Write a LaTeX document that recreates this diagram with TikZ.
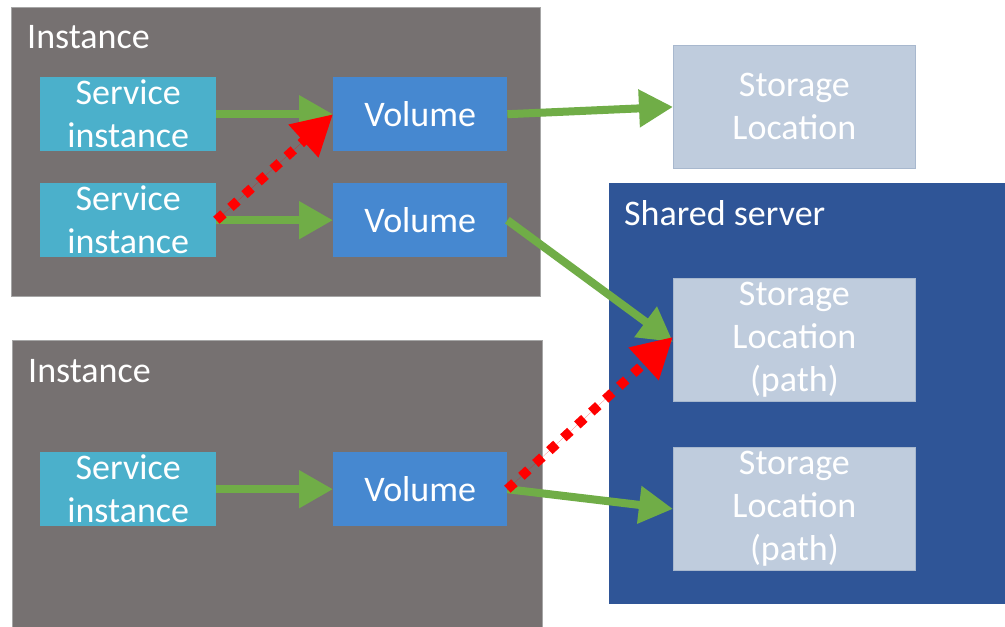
\documentclass[tikz,border=0pt]{standalone}
\usepackage{fontspec}
\setmainfont{Carlito}
\usetikzlibrary{arrows.meta}
\definecolor{instgray}{HTML}{767171}
\definecolor{instborder}{HTML}{A6A6A6}
\definecolor{svccol}{HTML}{4BB0CB}
\definecolor{volcol}{HTML}{4688D0}
\definecolor{storcol}{HTML}{BFCCDD}
\definecolor{storborder}{HTML}{A8B8CE}
\definecolor{servercol}{HTML}{2F5597}
\definecolor{arrowgreen}{HTML}{70AD47}
\definecolor{arrowred}{HTML}{FF0000}
\begin{document}
\begin{tikzpicture}[x=1pt,y=-1pt,
  every node/.style={font=\fontsize{36}{43}\selectfont},
  container/.style={draw=instborder, line width=1pt, fill=instgray, inner sep=0pt, anchor=north west},
  server/.style={fill=servercol, inner sep=0pt, anchor=north west},
  lbl/.style={text=white, inner sep=0pt, anchor=base west},
  svcbox/.style={fill=svccol, text=white, inner sep=0pt, anchor=north west, align=center, minimum width=176pt, minimum height=74pt},
  volbox/.style={fill=volcol, text=white, inner sep=0pt, anchor=north west, align=center, minimum width=174pt, minimum height=74pt},
  storbox/.style={fill=storcol, draw=storborder, line width=0.8pt, text=white, inner sep=0pt, anchor=north west, align=center, minimum width=242pt, minimum height=123pt},
  garrow/.style={draw=arrowgreen, fill=arrowgreen, line width=8pt, -{Triangle[length=34pt,width=36pt]}},
  rarrow/.style={draw=arrowred, fill=arrowred, line width=9.5pt, dash pattern=on 9.5pt off 9.5pt, -{Triangle[length=40pt,width=42pt]}}
]
\useasboundingbox (0,0) rectangle (1005,627);
\fill[white] (0,0) rectangle (1005,627);

% containers
\node[container, minimum width=529pt, minimum height=289pt] (inst1) at (11,7) {};
\node[container, minimum width=530pt, minimum height=300pt] (inst2) at (12,340) {};
\node[server, minimum width=400pt, minimum height=421pt] (srv) at (609,183) {};

\node[lbl] (inst1lbl) at (27,48) {Instance};
\node[lbl] (inst2lbl) at (28,382) {Instance};
\node[lbl] (srvlbl) at (624,225) {Shared server};

% boxes
\node[svcbox] (s1) at (40,77) {Service\\instance};
\node[svcbox] (s2) at (40,183) {Service\\instance};
\node[svcbox] (s3) at (40,452) {Service\\instance};
\node[volbox] (v1) at (333,77) {Volume};
\node[volbox] (v2) at (333,183) {Volume};
\node[volbox] (v3) at (333,452) {Volume};
\node[storbox] (st1) at (673,45) {Storage\\Location};
\node[storbox] (st2) at (673,278) {Storage\\Location\\(path)};
\node[storbox] (st3) at (673,447) {Storage\\Location\\(path)};

% connectors
\draw[garrow] (s1.east) -- (v1.west);
\draw[garrow] (s2.east) -- (v2.west);
\draw[garrow] (s3.east) -- (v3.west);
\draw[garrow] (v1.east) -- (st1.west);
\draw[garrow] (v2.east) -- ([yshift=-2pt]st2.west);
\draw[garrow] (v3.east) -- (st3.west);
\draw[rarrow] (s2.east) -- (v1.west);
\draw[rarrow] (v3.east) -- ([yshift=3pt]st2.west);
\end{tikzpicture}
\end{document}
